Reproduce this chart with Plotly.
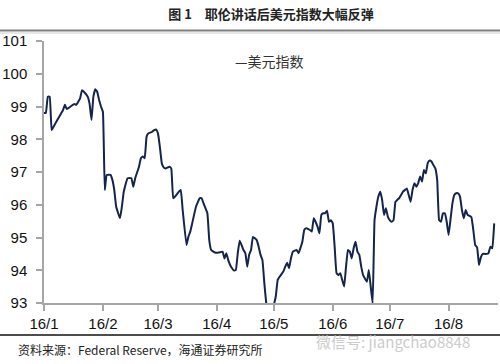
import plotly.graph_objects as go

dates = [
    "2016-01-01", "2016-01-02", "2016-01-03", "2016-01-04", "2016-01-05", "2016-01-06",
    "2016-01-08", "2016-01-10", "2016-01-11", "2016-01-12", "2016-01-13", "2016-01-15",
    "2016-01-17", "2016-01-18", "2016-01-20", "2016-01-21", "2016-01-22", "2016-01-24",
    "2016-01-25", "2016-01-26", "2016-01-27", "2016-01-28", "2016-01-29", "2016-01-30",
    "2016-01-31", "2016-02-01", "2016-02-02", "2016-02-03", "2016-02-05", "2016-02-06",
    "2016-02-07", "2016-02-08", "2016-02-10", "2016-02-11", "2016-02-12", "2016-02-14",
    "2016-02-16", "2016-02-17", "2016-02-18", "2016-02-20", "2016-02-21", "2016-02-22",
    "2016-02-23", "2016-02-24", "2016-02-25", "2016-02-27", "2016-02-28", "2016-02-29",
    "2016-03-01", "2016-03-02", "2016-03-03", "2016-03-04", "2016-03-05", "2016-03-07",
    "2016-03-08", "2016-03-09", "2016-03-10", "2016-03-12", "2016-03-13", "2016-03-14",
    "2016-03-16", "2016-03-17", "2016-03-18", "2016-03-19", "2016-03-21", "2016-03-23",
    "2016-03-24", "2016-03-25", "2016-03-27", "2016-03-28", "2016-03-29", "2016-03-31",
    "2016-04-02", "2016-04-04", "2016-04-05", "2016-04-06", "2016-04-07", "2016-04-08",
    "2016-04-09", "2016-04-10", "2016-04-11", "2016-04-12", "2016-04-13", "2016-04-14",
    "2016-04-15", "2016-04-16", "2016-04-17", "2016-04-18", "2016-04-19", "2016-04-20",
    "2016-04-22", "2016-04-23", "2016-04-24", "2016-04-25", "2016-04-26", "2016-04-27",
    "2016-04-28", "2016-04-29", "2016-04-30", "2016-05-01", "2016-05-02", "2016-05-03",
    "2016-05-04", "2016-05-06", "2016-05-07", "2016-05-08", "2016-05-09", "2016-05-10",
    "2016-05-11", "2016-05-13", "2016-05-14", "2016-05-16", "2016-05-17", "2016-05-18",
    "2016-05-20", "2016-05-21", "2016-05-22", "2016-05-24", "2016-05-25", "2016-05-26",
    "2016-05-27", "2016-05-28", "2016-05-29", "2016-05-30", "2016-05-31", "2016-06-01",
    "2016-06-02", "2016-06-03", "2016-06-04", "2016-06-05", "2016-06-06", "2016-06-07",
    "2016-06-08", "2016-06-09", "2016-06-10", "2016-06-11", "2016-06-12", "2016-06-13",
    "2016-06-14", "2016-06-15", "2016-06-16", "2016-06-17", "2016-06-19", "2016-06-20",
    "2016-06-21", "2016-06-22", "2016-06-23", "2016-06-24", "2016-06-25", "2016-06-26",
    "2016-06-27", "2016-06-28", "2016-06-29", "2016-06-30", "2016-07-01", "2016-07-02",
    "2016-07-03", "2016-07-04", "2016-07-05", "2016-07-06", "2016-07-07", "2016-07-08",
    "2016-07-09", "2016-07-10", "2016-07-11", "2016-07-12", "2016-07-13", "2016-07-14",
    "2016-07-15", "2016-07-16", "2016-07-17", "2016-07-18", "2016-07-19", "2016-07-20",
    "2016-07-21", "2016-07-22", "2016-07-23", "2016-07-24", "2016-07-25", "2016-07-26",
    "2016-07-27", "2016-07-28", "2016-07-29", "2016-07-30", "2016-07-31", "2016-08-01",
    "2016-08-02", "2016-08-03", "2016-08-04", "2016-08-05", "2016-08-06", "2016-08-07",
    "2016-08-08", "2016-08-09", "2016-08-10", "2016-08-11", "2016-08-12", "2016-08-13",
    "2016-08-14", "2016-08-15", "2016-08-16", "2016-08-17", "2016-08-18", "2016-08-19",
    "2016-08-20", "2016-08-21", "2016-08-22", "2016-08-23", "2016-08-24", "2016-08-25",
]

dollar_index = [
    98.80, 98.81, 99.30, 99.30, 98.28, 98.38,
    98.59, 98.79, 98.89, 99.05, 98.92, 99.00,
    99.08, 99.05, 99.25, 99.50, 99.45, 99.30,
    99.08, 98.59, 99.30, 99.53, 99.45, 99.20,
    99.00, 98.84, 96.45, 96.91, 96.91, 96.76,
    96.45, 95.94, 95.59, 95.94, 96.40, 96.81,
    96.81, 96.55, 96.81, 97.16, 97.42, 97.47,
    97.42, 98.08, 98.18, 98.23, 98.28, 98.30,
    98.18, 97.77, 97.27, 97.14, 97.11, 97.16,
    97.11, 96.20, 96.25, 96.40, 96.45, 95.84,
    94.77, 95.02, 95.18, 95.43, 95.94, 96.20,
    96.20, 96.04, 95.74, 94.92, 94.62, 94.54,
    94.54, 94.57, 94.36, 94.52, 94.31, 94.16,
    94.06, 93.99, 94.01, 94.52, 94.90, 94.77,
    94.62, 94.52, 94.11, 94.47, 94.62, 95.02,
    94.92, 94.72, 94.47, 94.31, 93.60, 92.99,
    92.60, 92.50, 92.60, 92.94, 93.19, 93.70,
    93.80, 93.96, 94.11, 94.23, 94.06, 94.36,
    94.57, 94.62, 94.52, 94.87, 95.23, 95.28,
    95.23, 95.18, 95.59, 95.33, 95.13, 95.69,
    95.74, 95.74, 95.82, 95.48, 95.53, 95.43,
    94.72, 93.91, 93.85, 93.91, 93.70, 93.50,
    94.11, 94.62, 94.57, 94.36, 94.67, 94.87,
    94.57, 94.47, 94.11, 93.85, 93.65, 94.01,
    93.50, 92.99, 95.53, 95.94, 96.25, 96.40,
    96.15, 95.69, 95.89, 95.64, 95.53, 95.48,
    95.53, 96.09, 96.15, 96.20, 96.30, 96.40,
    96.45, 96.50, 96.30, 96.09, 96.45, 96.66,
    96.55, 96.66, 96.86, 96.71, 97.06, 96.96,
    97.27, 97.35, 97.32, 97.21, 97.11, 96.75,
    95.53, 95.48, 95.74, 95.74, 95.48, 95.08,
    95.55, 96.04, 96.30, 96.35, 96.35, 96.25,
    95.84, 95.59, 95.84, 95.69, 95.66, 95.62,
    95.23, 94.77, 94.70, 94.16, 94.40, 94.50,
    94.50, 94.50, 94.52, 94.72, 94.67, 95.43,
]

tick_dates = ["2016-01-01", "2016-02-01", "2016-03-01", "2016-04-01",
              "2016-05-01", "2016-06-01", "2016-07-01", "2016-08-01"]
tick_labels = ["16/1", "16/2", "16/3", "16/4", "16/5", "16/6", "16/7", "16/8"]
y_ticks = [93, 94, 95, 96, 97, 98, 99, 100, 101]

series_name = "美元指数"
title_text = "图 1　耶伦讲话后美元指数大幅反弹"
source_text = "资料来源：Federal Reserve，海通证券研究所"
watermark_text = "微信号: jiangchao8848"

CJK = "Noto Sans CJK SC"
LAT = "Liberation Sans, Arial, sans-serif"

fig = go.Figure()
fig.add_trace(go.Scatter(
    x=dates, y=dollar_index, mode="lines", name=series_name,
    line=dict(color="#14244a", width=2, shape="spline", smoothing=0.3),
    showlegend=False,
))

fig.update_layout(
    width=500, height=364,
    margin=dict(l=40, r=2, t=41, b=61),
    paper_bgcolor="white", plot_bgcolor="white",
    title=dict(text="<b>" + title_text + "</b>", x=0.5, xref="paper", xanchor="center",
               y=1 - 14 / 364, yref="container", yanchor="middle",
               font=dict(family=CJK, size=13, color="#222222")),
    xaxis=dict(
        type="date", range=["2016-01-01", "2016-08-27"],
        tickvals=tick_dates, ticktext=tick_labels,
        showgrid=False, zeroline=False,
        showline=True, linecolor="#a6a6a6", linewidth=1.5,
        ticks="outside", ticklen=6, tickcolor="#a6a6a6", tickwidth=1.5,
        tickfont=dict(family=LAT, size=15, color="#111111"),
    ),
    yaxis=dict(
        range=[93, 101], tickvals=y_ticks,
        showgrid=False, zeroline=False,
        showline=True, linecolor="#a6a6a6", linewidth=1.5,
        ticks="outside", ticklen=6, tickcolor="#a6a6a6", tickwidth=1.5,
        ticklabelstandoff=6,
        tickfont=dict(family=LAT, size=15, color="#111111"),
    ),
    shapes=[
        dict(type="line", xref="paper", yref="paper", x0=-0.2, x1=1.2,
             y0=(303 - 30.5) / 262, y1=(303 - 30.5) / 262,
             line=dict(color="#7f7f7f", width=2)),
        dict(type="line", xref="paper", yref="paper", x0=-0.2, x1=1.2,
             y0=(303 - 33) / 262, y1=(303 - 33) / 262,
             line=dict(color="#cfcfcf", width=1)),
        dict(type="line", xref="paper", yref="paper", x0=-0.2, x1=1.2,
             y0=(303 - 335) / 262, y1=(303 - 335) / 262,
             line=dict(color="#111111", width=1.5)),
    ],
    annotations=[
        dict(text="—" + series_name, xref="paper", yref="paper",
             x=(231 - 40) / 458, y=(303 - 61) / 262, xanchor="left", yanchor="middle",
             showarrow=False, font=dict(family=CJK, size=14, color="#333333")),
        dict(text=source_text, xref="paper", yref="paper",
             x=(12 - 40) / 458, y=(303 - 349) / 262, xanchor="left", yanchor="middle",
             showarrow=False, font=dict(family=CJK, size=12, color="#222222")),
        dict(text=watermark_text, xref="paper", yref="paper",
             x=(312 - 40) / 458, y=(303 - 341) / 262, xanchor="left", yanchor="middle",
             showarrow=False, font=dict(family=CJK, size=15, color="#cccccc")),
    ],
)

fig.write_html("out.html", config={"displayModeBar": False},
               post_script="document.body.style.margin='0px';")
